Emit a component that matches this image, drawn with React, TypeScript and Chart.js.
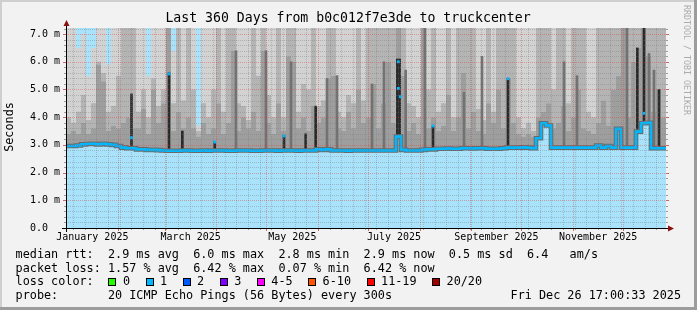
import React, { useEffect, useRef } from "react";
import { Chart, registerables } from "chart.js";

Chart.register(...registerables);

const FONT = '"DejaVu Sans Mono", "Liberation Mono", monospace';

const RANGE_DAYS = 360;
const BIN_DAYS = 3;
const Y_MAX = 7.22;
const START_MS = Date.UTC(2024, 11, 31, 17, 0, 33);

// median round-trip time per 3-day bin (ms)
const medianRtt = [
  2.96, 2.96, 2.98, 3.02, 3.03, 3.04, 3.02, 3.04, 3.02, 3.0,
  2.96, 2.9, 2.88, 2.88, 2.84, 2.84, 2.82, 2.82, 2.81, 2.8,
  2.79, 2.79, 2.79, 2.8, 2.8, 2.79, 2.79, 2.8, 2.79, 2.8,
  2.8, 2.8, 2.79, 2.79, 2.8, 2.8, 2.8, 2.79, 2.79, 2.8,
  2.8, 2.8, 2.79, 2.8, 2.8, 2.8, 2.79, 2.8, 2.8, 2.8,
  2.84, 2.82, 2.84, 2.8, 2.8, 2.8, 2.79, 2.8, 2.8, 2.8,
  2.8, 2.8, 2.8, 2.8, 2.8, 2.8, 3.3, 2.82, 2.8, 2.8,
  2.8, 2.82, 2.84, 2.84, 2.86, 2.86, 2.87, 2.86, 2.86, 2.88,
  2.88, 2.87, 2.88, 2.88, 2.86, 2.86, 2.86, 2.88, 2.9, 2.9,
  2.9, 2.91, 2.9, 2.88, 3.24, 3.78, 3.7, 2.9, 2.9, 2.9,
  2.9, 2.9, 2.9, 2.9, 2.9, 2.9, 2.98, 2.9, 2.96, 2.9,
  3.58, 2.9, 2.9, 2.9, 3.48, 3.78, 3.8, 2.88, 2.88, 2.88,
];

// smoke: upper edge of the dense (dark) band
const smokeInner = [
  3.4, 3.5, 3.4, 3.8, 3.4, 3.6, 5.9, 5.3, 3.5, 3.7,
  3.6, 3.8, 4.0, 3.6, 3.6, 4.3, 3.4, 5.0, 3.8, 4.5,
  7.5, 3.5, 4.2, 3.6, 4.0, 3.6, 3.3, 3.8, 3.4, 3.6,
  4.5, 3.4, 3.8, 6.4, 3.5, 4.0, 3.6, 4.2, 3.5, 6.4,
  3.8, 3.4, 4.5, 3.5, 6.2, 6.0, 3.6, 4.0, 3.5, 4.4,
  3.8, 4.0, 5.4, 5.5, 3.6, 3.5, 4.2, 3.6, 5.0, 3.8,
  4.0, 5.2, 3.6, 4.5, 6.0, 3.8, 7.5, 5.5, 3.5, 3.8,
  3.4, 7.5, 3.6, 4.0, 3.5, 3.7, 4.8, 3.5, 4.0, 5.6,
  3.6, 4.2, 3.5, 3.4, 4.5, 3.8, 5.0, 3.6, 5.4, 3.8,
  3.4, 3.3, 3.4, 3.3, 4.0, 4.2, 4.5, 3.6, 3.8, 4.4,
  3.5, 4.0, 5.0, 3.6, 3.5, 3.4, 3.8, 4.6, 3.7, 5.0,
  5.5, 7.5, 4.0, 6.0, 6.5, 7.5, 6.2, 4.2, 5.0, 4.0,
];

// smoke: upper edge of the medium band
const smokeMiddle = [
  4.0, 3.8, 4.2, 4.8, 3.9, 4.5, 6.0, 5.6, 4.2, 4.4,
  5.5, 7.5, 7.5, 7.5, 4.2, 5.0, 4.0, 5.4, 4.4, 5.0,
  7.5, 4.5, 7.5, 4.6, 7.5, 5.0, 3.5, 4.5, 4.0, 5.0,
  7.5, 4.2, 7.5, 7.5, 4.5, 4.4, 3.9, 7.5, 5.5, 7.5,
  4.8, 4.0, 7.5, 4.0, 7.5, 7.5, 4.2, 5.2, 5.0, 7.5,
  4.4, 4.6, 7.5, 7.5, 4.2, 4.0, 4.8, 4.5, 7.5, 4.6,
  7.5, 7.5, 7.5, 7.5, 7.5, 7.5, 7.5, 7.5, 4.5, 4.4,
  4.0, 7.5, 5.0, 7.5, 4.2, 4.5, 7.5, 4.0, 7.5, 7.5,
  7.5, 7.5, 4.3, 3.9, 7.5, 4.2, 7.5, 7.5, 7.5, 7.5,
  4.0, 3.6, 3.8, 3.5, 7.5, 7.5, 7.5, 5.0, 7.5, 7.5,
  4.5, 7.5, 7.5, 7.5, 4.2, 4.0, 7.5, 7.5, 7.5, 7.5,
  7.5, 7.5, 7.5, 7.5, 7.5, 7.5, 7.5, 7.5, 7.5, 7.5,
];

// smoke: maximum ping (above the plot top where 7.5)
const smokeOuter = [
  7.5, 7.5, 6.5, 7.0, 5.5, 6.5, 7.5, 7.5, 5.9, 7.5,
  7.5, 7.5, 7.5, 7.5, 7.5, 7.5, 5.5, 7.5, 7.5, 7.5,
  7.5, 6.4, 7.5, 7.5, 7.5, 7.5, 3.7, 7.5, 7.5, 7.5,
  7.5, 7.5, 7.5, 7.5, 7.5, 7.5, 7.5, 7.5, 7.5, 7.5,
  7.5, 7.5, 7.5, 7.5, 7.5, 7.5, 7.5, 7.5, 7.5, 7.5,
  7.5, 7.5, 7.5, 7.5, 7.5, 7.5, 7.5, 7.5, 7.5, 7.5,
  7.5, 7.5, 7.5, 7.5, 7.5, 7.5, 7.5, 7.5, 7.5, 7.5,
  7.5, 7.5, 7.5, 7.5, 7.5, 7.5, 7.5, 7.5, 7.5, 7.5,
  7.5, 7.5, 7.5, 7.5, 7.5, 7.5, 7.5, 7.5, 7.5, 7.5,
  7.5, 7.5, 7.5, 7.5, 7.5, 7.5, 7.5, 7.5, 7.5, 7.5,
  7.5, 7.5, 7.5, 7.5, 7.5, 7.5, 7.5, 7.5, 7.5, 7.5,
  7.5, 7.5, 7.5, 7.5, 7.5, 7.5, 7.5, 7.5, 7.5, 7.5,
];

// short dense excursions (day offset, top in ms)
const blackSpikeDays = [39.3, 61.8, 69.8, 89.2, 130.8, 143.8, 149.8, 198.8, 200.2, 220.2, 265.2, 342.8, 346.8, 355.8];
const blackSpikeTops = [4.84, 5.6, 3.5, 3.12, 3.34, 3.4, 4.4, 6.1, 6.1, 3.68, 5.4, 6.5, 7.3, 5.0];
const greySpikeDays = [102, 120, 135, 156.6, 162.6, 183.6, 190.8, 203.8, 215.4, 238.8, 249.6, 298.8, 306.6, 336.6, 349.8, 352.8];
const greySpikeTops = [6.4, 6.4, 6.0, 5.4, 5.5, 5.2, 6.0, 5.7, 7.3, 4.9, 6.2, 6.0, 5.5, 7.3, 6.3, 5.7];

// isolated median peaks
const medianPeakDays = [39.3, 61.8, 89.2, 130.8, 199.4, 199.4, 200.6, 220.2, 265.2, 346.8];
const medianPeakVals = [3.26, 5.56, 3.1, 3.32, 6.0, 5.04, 4.74, 3.68, 5.39, 4.14];

const yTickValues = [0, 1, 2, 3, 4, 5, 6, 7];
const xLabelMonths = [0, 2, 4, 6, 8, 10];
const xLabelTexts = ["January 2025", "March 2025", "May 2025", "July 2025", "September 2025", "November 2025"];

const lossLabels = ["0", "1", "2", "3", "4-5", "6-10", "11-19", "20/20"];
const lossColors = ["#26ff00", "#00b8ff", "#0059ff", "#7e00ff", "#ff00ff", "#ff5500", "#ff0000", "#a10000"];

const titleText = "Last 360 Days from b0c012f7e3de to truckcenter";
const rttLine = "median rtt:  2.9 ms avg  6.0 ms max  2.8 ms min  2.9 ms now  0.5 ms sd  6.4   am/s";
const lossLine = "packet loss: 1.57 % avg  6.42 % max  0.07 % min  6.42 % now";
const lossColorLabel = "loss color:";
const probeLine = "probe:       20 ICMP Echo Pings (56 Bytes) every 300s";
const dateText = "Fri Dec 26 17:00:33 2025";
const yAxisTitle = "Seconds";
const watermark = "RRDTOOL / TOBI OETIKER";

const dayOf = (y: number, m: number, d: number) => (Date.UTC(y, m, d) - START_MS) / 86400000;
const xLabelDays = xLabelMonths.map((m) => (dayOf(2025, m, 1) + dayOf(2025, m + 1, 1)) / 2);
const monthStartDays = [1, 2, 3, 4, 5, 6, 7, 8, 9, 10, 11].map((m) => dayOf(2025, m, 1));
const weekStartDays: number[] = [];
for (let d = dayOf(2025, 0, 5); d < RANGE_DAYS; d += 7) weekStartDays.push(d);

const stepPoints = (vals: number[]) => [
  ...vals.map((v, i) => ({ x: i * BIN_DAYS, y: v })),
  { x: RANGE_DAYS, y: vals[vals.length - 1] },
];

const C_BLUE_BG = "#a9e3fb";
const C_LINE = "#00b8ff";

const rrdPlugin = {
  id: "rrd",
  beforeDraw(chart: any) {
    const { ctx, width, height, chartArea: a } = chart;
    ctx.save();
    ctx.fillStyle = "#f2f2f2";
    ctx.fillRect(0, 0, width, height);
    ctx.fillStyle = "#cfcfcf";
    ctx.fillRect(0, 0, width, 2);
    ctx.fillRect(0, 0, 2, height);
    ctx.fillStyle = "#9c9c9c";
    ctx.fillRect(width - 3, 0, 3, height);
    ctx.fillRect(0, height - 3, width, 3);
    ctx.fillStyle = C_BLUE_BG;
    ctx.fillRect(a.left, a.top, a.right - a.left, a.bottom - a.top);
    ctx.restore();
  },
  afterDatasetsDraw(chart: any) {
    const { ctx, chartArea: a, scales } = chart;
    const xs = scales.x;
    const ys = scales.y;
    const L = a.left, R = a.right, T = a.top, B = a.bottom;
    const minor = "rgba(120,120,120,0.38)";
    const major = "rgba(225,60,60,0.42)";
    ctx.save();
    ctx.lineWidth = 1;
    ctx.setLineDash([1, 1]);
    const hline = (v: number, c: string) => {
      const py = Math.round(ys.getPixelForValue(v)) + 0.5;
      ctx.strokeStyle = c;
      ctx.beginPath();
      ctx.moveTo(L, py);
      ctx.lineTo(R, py);
      ctx.stroke();
    };
    const vline = (d: number, c: string) => {
      const px = Math.round(xs.getPixelForValue(d)) + 0.5;
      ctx.strokeStyle = c;
      ctx.beginPath();
      ctx.moveTo(px, T);
      ctx.lineTo(px, B);
      ctx.stroke();
    };
    const minorY: number[] = [];
    for (let k = 1; k * 0.2 < Y_MAX; k++) if (k % 5 !== 0) minorY.push(k * 0.2);
    minorY.forEach((v) => hline(v, minor));
    const weekOnly = weekStartDays.filter((d) => !monthStartDays.some((m) => Math.abs(m - d) < 0.7));
    weekOnly.forEach((d) => vline(d, minor));
    monthStartDays.forEach((d) => vline(d, major));
    yTickValues.filter((v) => v > 0).forEach((v) => hline(v, major));

    ctx.setLineDash([]);
    // tick marks
    const tickH = (v: number, len: number, c: string) => {
      const py = Math.round(ys.getPixelForValue(v)) + 0.5;
      ctx.strokeStyle = c;
      ctx.beginPath();
      ctx.moveTo(L - len, py);
      ctx.lineTo(L, py);
      ctx.moveTo(R, py);
      ctx.lineTo(R + len, py);
      ctx.stroke();
    };
    const tickV = (d: number, len: number, c: string) => {
      const px = Math.round(xs.getPixelForValue(d)) + 0.5;
      ctx.strokeStyle = c;
      ctx.beginPath();
      ctx.moveTo(px, B);
      ctx.lineTo(px, B + len);
      ctx.stroke();
    };
    minorY.forEach((v) => tickH(v, 2, "rgba(120,120,120,0.7)"));
    yTickValues.filter((v) => v > 0).forEach((v) => tickH(v, 3, "rgba(200,40,40,0.7)"));
    weekOnly.forEach((d) => tickV(d, 2, "rgba(120,120,120,0.7)"));
    monthStartDays.forEach((d) => tickV(d, 3, "rgba(200,40,40,0.7)"));

    // axes
    ctx.strokeStyle = "#000000";
    ctx.beginPath();
    ctx.moveTo(L - 4, B + 0.5);
    ctx.lineTo(R + 3, B + 0.5);
    ctx.moveTo(L + 0.5, B + 4);
    ctx.lineTo(L + 0.5, T - 3);
    ctx.stroke();
    ctx.fillStyle = "#8b1010";
    ctx.beginPath();
    ctx.moveTo(L + 0.5, T - 8);
    ctx.lineTo(L - 2.5, T - 2);
    ctx.lineTo(L + 3.5, T - 2);
    ctx.closePath();
    ctx.fill();
    ctx.beginPath();
    ctx.moveTo(R + 8, B + 0.5);
    ctx.lineTo(R + 2, B - 2.5);
    ctx.lineTo(R + 2, B + 3.5);
    ctx.closePath();
    ctx.fill();
    ctx.restore();
  },
  afterDraw(chart: any) {
    const { ctx } = chart;
    ctx.save();
    ctx.fillStyle = "#000000";
    ctx.textBaseline = "middle";
    ctx.textAlign = "center";
    ctx.font = `13.2px ${FONT}`;
    ctx.fillText(titleText, 348, 19);

    ctx.save();
    ctx.translate(10, 127);
    ctx.rotate(-Math.PI / 2);
    ctx.font = `11.8px ${FONT}`;
    ctx.fillText(yAxisTitle, 0, 0);
    ctx.restore();

    ctx.save();
    ctx.translate(686, 5);
    ctx.rotate(Math.PI / 2);
    ctx.textAlign = "left";
    ctx.fillStyle = "#ababab";
    ctx.font = `8.3px ${FONT}`;
    ctx.fillText(watermark, 0, 0);
    ctx.restore();

    ctx.textAlign = "left";
    ctx.font = `11.8px ${FONT}`;
    ctx.fillText(rttLine, 15.6, 255);
    ctx.fillText(lossLine, 15.6, 269);
    ctx.fillText(lossColorLabel, 15.6, 282);
    let bx = 108.4;
    lossLabels.forEach((lab, i) => {
      ctx.fillStyle = lossColors[i];
      ctx.fillRect(Math.round(bx), 278, 8, 8);
      ctx.strokeStyle = "#000000";
      ctx.lineWidth = 1;
      ctx.strokeRect(Math.round(bx) + 0.5, 278.5, 7, 7);
      ctx.fillStyle = "#000000";
      const tx = bx + 14.5;
      ctx.fillText(lab, tx, 282);
      bx = tx + ctx.measureText(lab).width + 15.5;
    });
    ctx.fillText(probeLine, 15.6, 296);
    ctx.textAlign = "right";
    ctx.fillText(dateText, 681, 296);
    ctx.restore();
  },
};

export default function App() {
  const ref = useRef<HTMLCanvasElement | null>(null);
  useEffect(() => {
    document.body.style.margin = "0";
    const canvas = ref.current;
    if (!canvas) return;
    const spikeData = [
      ...greySpikeDays.map((d, i) => ({ x: d, y: [medianRtt[Math.min(119, Math.floor(d / BIN_DAYS))], greySpikeTops[i]] })),
      ...blackSpikeDays.map((d, i) => ({ x: d, y: [medianRtt[Math.min(119, Math.floor(d / BIN_DAYS))], blackSpikeTops[i]] })),
    ];
    const spikeColors = [...greySpikeDays.map(() => "#727272"), ...blackSpikeDays.map(() => "#2a2a2a")];
    const chart = new Chart(canvas, {
      type: "line",
      data: {
        datasets: [
          {
            label: "median",
            data: stepPoints(medianRtt),
            stepped: true,
            borderColor: C_LINE,
            borderWidth: 2.6,
            pointRadius: 0,
            fill: false,
            order: 1,
            clip: 0,
          } as any,
          {
            label: "median shade",
            data: stepPoints(medianRtt),
            stepped: true,
            borderColor: "#6a6a6a",
            borderWidth: 4.6,
            pointRadius: 0,
            fill: false,
            order: 2,
            clip: 0,
          },
          {
            label: "peaks",
            data: medianPeakDays.map((d, i) => ({ x: d, y: medianPeakVals[i] })),
            showLine: false,
            pointStyle: "rect",
            pointRadius: 2,
            pointBackgroundColor: C_LINE,
            pointBorderWidth: 0,
            order: 0,
            clip: 0,
          },
          {
            type: "bar",
            label: "spikes",
            data: spikeData,
            backgroundColor: spikeColors,
            borderWidth: 0,
            barThickness: 2,
            grouped: false,
            order: 3,
            clip: 0,
          } as any,
          {
            label: "smoke inner",
            data: stepPoints(smokeInner),
            stepped: true,
            borderWidth: 0,
            pointRadius: 0,
            backgroundColor: "#9e9e9e",
            fill: 0,
            order: 8,
            clip: 0,
          },
          {
            label: "smoke middle",
            data: stepPoints(smokeMiddle),
            stepped: true,
            borderWidth: 0,
            pointRadius: 0,
            backgroundColor: "#b4b4b4",
            fill: 4,
            order: 9,
            clip: 0,
          },
          {
            label: "smoke outer",
            data: stepPoints(smokeOuter),
            stepped: true,
            borderWidth: 0,
            pointRadius: 0,
            backgroundColor: "#d2d2d2",
            fill: 5,
            order: 10,
            clip: 0,
          },
        ],
      },
      options: {
        animation: false,
        responsive: false,
        maintainAspectRatio: false,
        devicePixelRatio: 1,
        events: [],
        layout: { padding: { left: 0, right: 31, top: 28, bottom: 62 } },
        plugins: {
          legend: { display: false },
          tooltip: { enabled: false },
          title: { display: false },
        },
        scales: {
          x: {
            type: "linear",
            min: 0,
            max: RANGE_DAYS,
            offset: false,
            grid: { display: false, drawTicks: false },
            border: { display: false },
            afterBuildTicks: (s: any) => {
              s.ticks = xLabelDays.map((v) => ({ value: v }));
            },
            ticks: {
              autoSkip: false,
              maxRotation: 0,
              minRotation: 0,
              padding: 3,
              color: "#000000",
              font: { family: FONT, size: 10 },
              callback: (_v: any, i: number) => xLabelTexts[i],
            },
            afterFit: (s: any) => {
              s.height = 20;
            },
          },
          y: {
            type: "linear",
            min: 0,
            max: Y_MAX,
            grid: { display: false, drawTicks: false },
            border: { display: false },
            afterBuildTicks: (s: any) => {
              s.ticks = yTickValues.map((v) => ({ value: v }));
            },
            ticks: {
              padding: 6,
              color: "#000000",
              font: { family: FONT, size: 10 },
              callback: (v: any) => (Number(v) === 0 ? "0.0  " : Number(v).toFixed(1) + " m"),
            },
            afterFit: (s: any) => {
              s.width = 66;
            },
          },
        },
      } as any,
      plugins: [rrdPlugin],
    });
    return () => chart.destroy();
  }, []);
  return (
    <div style={{ width: 697, height: 310 }}>
      <canvas ref={ref} width={697} height={310} style={{ display: "block" }} />
    </div>
  );
}
